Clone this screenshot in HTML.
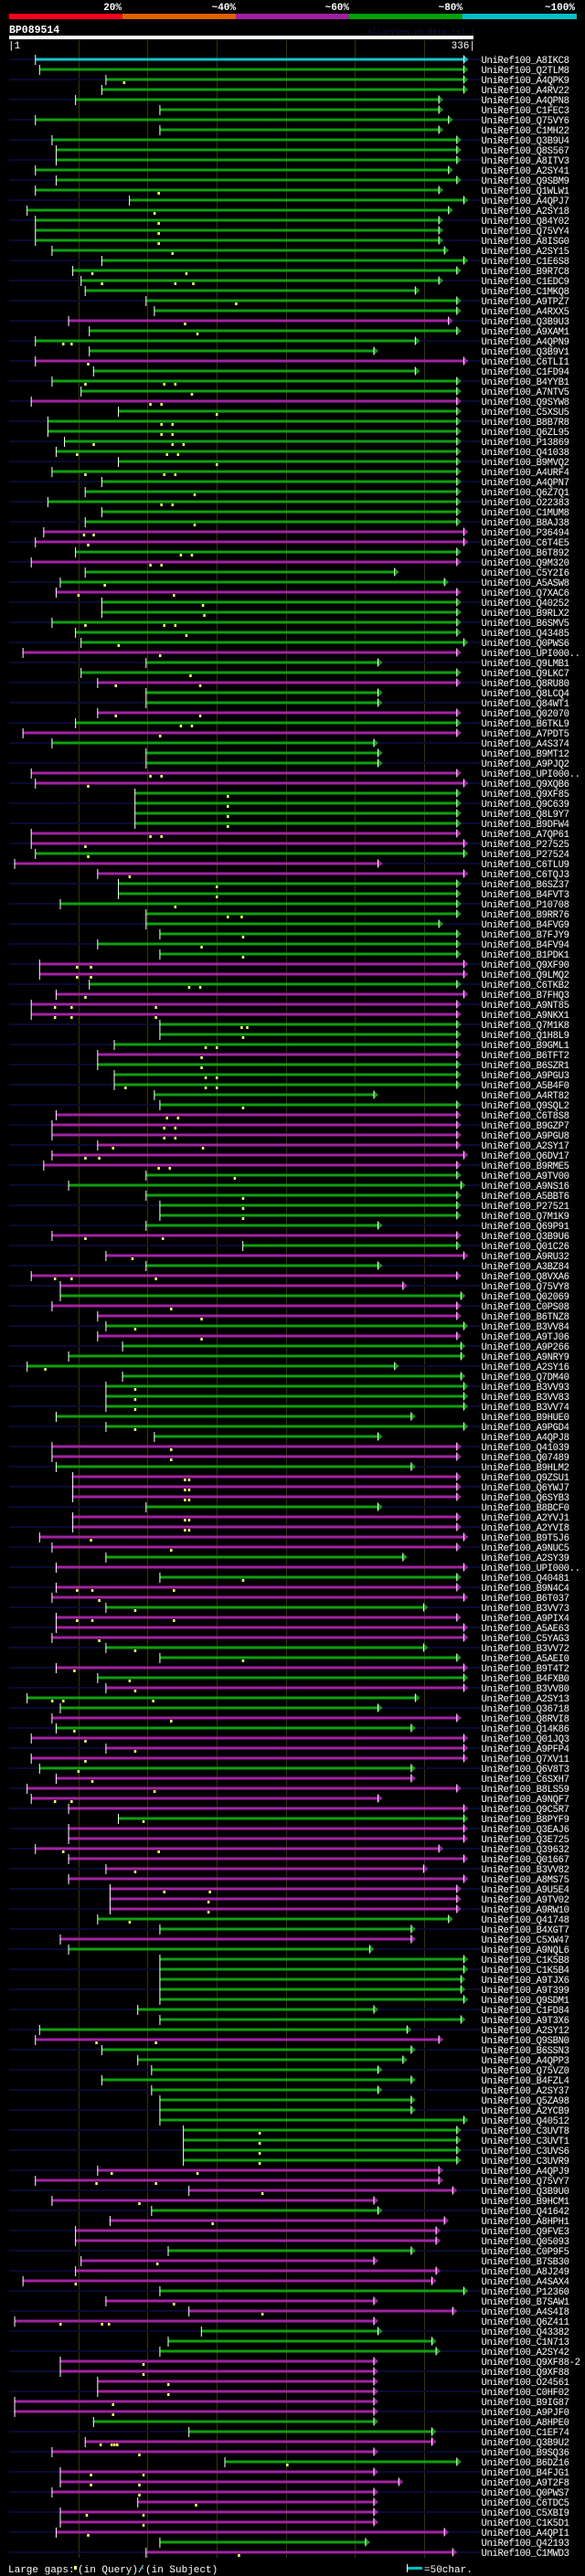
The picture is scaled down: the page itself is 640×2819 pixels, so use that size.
<!DOCTYPE html>
<html>
<head>
<meta charset="utf-8">
<style>
html,body{margin:0;padding:0;background:#000;}
body{width:640px;height:2819px;overflow:hidden;position:relative;font-family:"Liberation Mono",monospace;}
svg{position:absolute;left:0;top:0;}
</style>
</head>
<body>
<svg id="chart" width="640" height="2819" viewBox="0 0 640 2819" xmlns="http://www.w3.org/2000/svg">
  <g font-family="Liberation Mono, monospace" font-weight="bold" font-size="11" fill="#fff" text-anchor="end">
    <text x="133" y="11">20%</text>
    <text x="258" y="11">~40%</text>
    <text x="382" y="11">~60%</text>
    <text x="506" y="11">~80%</text>
    <text x="629" y="11">~100%</text>
  </g>
  <g>
    <rect x="10" y="15" width="124" height="6" fill="#ff0020"/>
    <rect x="134" y="15" width="124" height="6" fill="#e06000"/>
    <rect x="258" y="15" width="124" height="6" fill="#a020a0"/>
    <rect x="382" y="15" width="124" height="6" fill="#00a000"/>
    <rect x="506" y="15" width="125" height="6" fill="#00c0c8"/>
  </g>
  <text x="10" y="36" font-family="Liberation Mono, monospace" font-weight="bold" font-size="11.5" fill="#fff">BP089514</text>
  <text x="402" y="37" font-family="Liberation Mono, monospace" font-size="8.5" fill="#101048">AlignView.pm Beta rel.7</text>
  <rect x="10" y="39" width="508" height="4" fill="#fff"/>
  <text x="9" y="53" font-family="Liberation Mono, monospace" font-size="11" fill="#fff">|1</text>
  <text x="520" y="53" text-anchor="end" font-family="Liberation Mono, monospace" font-size="11" fill="#fff">336|</text>
  <g id="grid"></g>
  <g id="rows"></g>
  <g font-family="Liberation Mono, monospace" font-size="11" fill="#fff">
    <text x="9" y="2815">Large gaps:</text>
    <rect x="81" y="2808" width="3" height="4" fill="#ffff60"/>
    <text x="85" y="2815">(in Query)/</text>
    <rect x="153" y="2810" width="4" height="1" fill="#00c0c8"/>
    <text x="159" y="2815">(in Subject)</text>
    <rect x="445" y="2806" width="1" height="9" fill="#fff"/>
    <rect x="446" y="2809" width="16" height="3" fill="#00c0c8"/>
    <text x="464" y="2815">=50char.</text>
  </g>
</svg>
<script>
const names = ["UniRef100_A8IKC8","UniRef100_Q2TLM8","UniRef100_A4QPK9","UniRef100_A4RV22","UniRef100_A4QPN8","UniRef100_C1FEC3","UniRef100_Q75VY6","UniRef100_C1MH22","UniRef100_Q3B9U4","UniRef100_Q8S567",
"UniRef100_A8ITV3","UniRef100_A2SY41","UniRef100_Q9SBM9","UniRef100_Q1WLW1","UniRef100_A4QPJ7","UniRef100_A2SY18","UniRef100_Q84Y02","UniRef100_Q75VY4","UniRef100_A8ISG0","UniRef100_A2SY15",
"UniRef100_C1E6S8","UniRef100_B9R7C8","UniRef100_C1EDC9","UniRef100_C1MKQ8","UniRef100_A9TPZ7","UniRef100_A4RXX5","UniRef100_Q3B9U3","UniRef100_A9XAM1","UniRef100_A4QPN9","UniRef100_Q3B9V1",
"UniRef100_C6TLI1","UniRef100_C1FD94","UniRef100_B4YYB1","UniRef100_A7NTV5","UniRef100_Q9SYW8","UniRef100_C5XSU5","UniRef100_B8B7R8","UniRef100_Q6ZL95","UniRef100_P13869","UniRef100_Q41038",
"UniRef100_B9MVQ2","UniRef100_A4URF4","UniRef100_A4QPN7","UniRef100_Q6Z7Q1","UniRef100_O22383","UniRef100_C1MUM8","UniRef100_B8AJ38","UniRef100_P36494","UniRef100_C6T4E5","UniRef100_B6T892",
"UniRef100_Q9M320","UniRef100_C5Y2I6","UniRef100_A5ASW8","UniRef100_Q7XAC6","UniRef100_Q40252","UniRef100_B9RLX2","UniRef100_B6SMV5","UniRef100_Q43485","UniRef100_Q0PWS6","UniRef100_UPI000..",
"UniRef100_Q9LMB1","UniRef100_Q9LKC7","UniRef100_Q8RU80","UniRef100_Q8LCQ4","UniRef100_Q84WT1","UniRef100_Q02070","UniRef100_B6TKL9","UniRef100_A7PDT5","UniRef100_A4S374","UniRef100_B9MT12",
"UniRef100_A9PJQ2","UniRef100_UPI000..","UniRef100_Q9XQB6","UniRef100_Q9XF85","UniRef100_Q9C639","UniRef100_Q8L9Y7","UniRef100_B9DFW4","UniRef100_A7QP61","UniRef100_P27525","UniRef100_P27524",
"UniRef100_C6TLU9","UniRef100_C6TQJ3","UniRef100_B6SZ37","UniRef100_B4FVT3","UniRef100_P10708","UniRef100_B9RR76","UniRef100_B4FVG9","UniRef100_B7FJY9","UniRef100_B4FV94","UniRef100_B1PDK1",
"UniRef100_Q9XF90","UniRef100_Q9LMQ2","UniRef100_C6TKB2","UniRef100_B7FHQ3","UniRef100_A9NT85","UniRef100_A9NKX1","UniRef100_Q7M1K8","UniRef100_Q1H8L9","UniRef100_B9GML1","UniRef100_B6TFT2",
"UniRef100_B6SZR1","UniRef100_A9PGU3","UniRef100_A5B4F0","UniRef100_A4RT82","UniRef100_Q9SQL2","UniRef100_C6T8S8","UniRef100_B9GZP7","UniRef100_A9PGU8","UniRef100_A2SY17","UniRef100_Q6DV17",
"UniRef100_B9RME5","UniRef100_A9TV00","UniRef100_A9NS16","UniRef100_A5BBT6","UniRef100_P27521","UniRef100_Q7M1K9","UniRef100_Q69P91","UniRef100_Q3B9U6","UniRef100_Q01C26","UniRef100_A9RU32",
"UniRef100_A3BZ84","UniRef100_Q8VXA6","UniRef100_Q75VY8","UniRef100_Q02069","UniRef100_C0PS08","UniRef100_B6TNZ8","UniRef100_B3VV84","UniRef100_A9TJ06","UniRef100_A9P266","UniRef100_A9NRY9",
"UniRef100_A2SY16","UniRef100_Q7DM40","UniRef100_B3VV93","UniRef100_B3VV83","UniRef100_B3VV74","UniRef100_B9HUE0","UniRef100_A9PGD4","UniRef100_A4QPJ8","UniRef100_Q41039","UniRef100_Q07489",
"UniRef100_B9HLM2","UniRef100_Q9ZSU1","UniRef100_Q6YWJ7","UniRef100_Q6SYB3","UniRef100_B8BCF0","UniRef100_A2YVJ1","UniRef100_A2YVI8","UniRef100_B9T5J6","UniRef100_A9NUC5","UniRef100_A2SY39",
"UniRef100_UPI000..","UniRef100_Q40481","UniRef100_B9N4C4","UniRef100_B6T037","UniRef100_B3VV73","UniRef100_A9PIX4","UniRef100_A5AE63","UniRef100_C5YAG3","UniRef100_B3VV72","UniRef100_A5AEI0",
"UniRef100_B9T4T2","UniRef100_B4FXB0","UniRef100_B3VV80","UniRef100_A2SY13","UniRef100_Q36718","UniRef100_Q8RVI8","UniRef100_Q14K86","UniRef100_Q01JQ3","UniRef100_A9PFP4","UniRef100_Q7XV11",
"UniRef100_Q6V8T3","UniRef100_C6SXH7","UniRef100_B8LS59","UniRef100_A9NQF7","UniRef100_Q9C5R7","UniRef100_B8PYF9","UniRef100_Q3EAJ6","UniRef100_Q3E725","UniRef100_Q39632","UniRef100_Q01667",
"UniRef100_B3VV82","UniRef100_A8MS75","UniRef100_A9U5E4","UniRef100_A9TV02","UniRef100_A9RW10","UniRef100_Q41748","UniRef100_B4XGT7","UniRef100_C5XW47","UniRef100_A9NQL6","UniRef100_C1K5B8",
"UniRef100_C1K5B4","UniRef100_A9TJX6","UniRef100_A9T399","UniRef100_Q9SDM1","UniRef100_C1FD84","UniRef100_A9T3X6","UniRef100_A2SY12","UniRef100_Q9SBN0","UniRef100_B6SSN3","UniRef100_A4QPP3",
"UniRef100_Q75VZ0","UniRef100_B4FZL4","UniRef100_A2SY37","UniRef100_Q5ZA98","UniRef100_A2YCB9","UniRef100_Q40512","UniRef100_C3UVT8","UniRef100_C3UVT1","UniRef100_C3UVS6","UniRef100_C3UVR9",
"UniRef100_A4QPJ9","UniRef100_Q75VY7","UniRef100_Q3B9U0","UniRef100_B9HCM1","UniRef100_Q41642","UniRef100_A8HPH1","UniRef100_Q9FVE3","UniRef100_Q05093","UniRef100_C0P9F5","UniRef100_B7SB30",
"UniRef100_A8J249","UniRef100_A4SAX4","UniRef100_P12360","UniRef100_B7SAW1","UniRef100_A4S4I8","UniRef100_Q6Z411","UniRef100_Q43382","UniRef100_C1N713","UniRef100_A2SY42","UniRef100_Q9XF88-2",
"UniRef100_Q9XF88","UniRef100_O24561","UniRef100_C0HF02","UniRef100_B9IG87","UniRef100_A9PJF0","UniRef100_A8HPE0","UniRef100_C1EF74","UniRef100_Q3B9U2","UniRef100_B9SQ36","UniRef100_B6DZ16",
"UniRef100_B4FJG1","UniRef100_A9T2F8","UniRef100_Q0PWS7","UniRef100_C6TDC5","UniRef100_C5XBI9","UniRef100_C1K5D1","UniRef100_A4QPI1","UniRef100_Q42193","UniRef100_C1MWD3"];

const starts = [20,23,71,68,49,110,20,110,32,35, 35,20,35,20,88,14,20,20,20,32, 68,47,53,56,100,106,44,59,20,59,
20,62,32,53,17,80,29,29,41,35, 80,32,68,56,29,68,56,26,20,49, 17,56,38,35,68,68,32,49,53,11,
100,53,65,100,100,65,49,11,32,100, 100,17,20,92,92,92,92,17,17,20, 5,65,80,80,38,100,100,110,65,110,
23,23,59,35,17,17,110,110,77,65, 65,77,77,106,110,35,32,32,65,32, 26,100,44,100,110,110,100,32,170,71,
100,17,38,38,32,65,71,65,83,44, 14,83,71,71,71,35,71,106,32,32, 35,47,47,47,100,47,47,23,32,71,
35,110,35,32,71,35,35,32,71,110, 35,65,71,14,38,32,35,17,71,17, 23,35,14,17,44,80,44,44,20,44,
71,44,74,74,74,65,110,38,44,110, 110,110,110,110,94,110,23,20,68,94, 104,68,104,110,110,110,127,127,127,127,
65,20,131,32,104,74,49,49,116,53, 49,11,110,71,131,5,140,116,110,38, 38,65,65,5,5,62,131,56,32,157,
38,38,32,94,38,38,35,110,100];

const ends = [333,333,333,333,315,315,322,315,328,328, 328,322,328,315,333,322,315,315,315,319, 333,328,315,298,328,328,322,328,298,268,
333,298,328,328,328,328,328,328,328,328, 328,328,328,328,328,328,328,333,333,328, 328,283,319,328,328,328,328,328,333,328,
271,328,328,271,271,328,328,328,268,271, 271,328,333,328,328,328,328,328,333,333, 271,333,328,328,328,328,315,328,328,328,
333,333,328,333,328,328,328,328,328,328, 328,328,328,268,328,328,328,328,328,333, 328,328,331,328,328,328,271,328,328,333,
271,328,289,331,328,328,333,328,331,331, 283,331,333,333,333,295,333,271,328,328, 295,328,328,328,271,328,328,333,328,289,
333,328,328,333,304,328,333,333,304,328, 333,333,333,298,271,328,295,333,333,333, 295,295,328,271,333,333,333,333,315,333,
304,333,328,328,328,322,295,295,265,333, 333,331,331,333,268,331,292,315,295,289, 271,295,271,295,295,333,328,328,328,328,
315,315,325,268,271,319,313,313,295,268, 313,310,333,268,325,268,271,310,313,268, 268,268,268,268,268,268,310,310,268,328,
268,286,268,268,268,268,319,262,325];

const colors = "cggggggggg" + "gggggggggg" + "ggggggmggg" + "mgggmggggg" + "gggggggmmg" +
"mggmgggggm" + "ggmggmgmgg" + "gmmggggmmg" + "mmgggggggg" + "mmgmmmgggm" +
"gggggmmmmm" + "mggggggmgm" + "gmmgmmgmgg" + "ggggggggmm" + "gmmmgmmmmg" +
"mgmmgmmmgg" + "mgmggmgmmm" + "gmmmmgmmmm" + "mmmmmggmgg" + "gggggggmgg" +
"gggggggggg" + "mmmmgmmmgm" + "mmgmmmgggm" + "mmmmmggmmg" + "mmmmmmmgm";

const gaps = [[],[],[84],[],[],[],[],[],[],[], [],[],[],[109],[],[106],[109],[109],[109],[119],
[],[61,129],[68,121,134],[],[165],[],[128],[137],[40,46],[], [58],[],[56,113,121],[133],[103,111],[151],[111,119],[111,119],[62,119,127],[50,115,123],
[151],[56,113,121],[],[135],[111,119],[],[135],[55,62],[58],[125,133], [103,111],[],[70],[51,120],[141],[142],[56,113,121],[129],[80],[110],
[],[132],[78,139],[],[],[78,139],[125,133],[110],[],[], [],[103,111],[58],[159],[159],[159],[159],[103,111],[56],[58],
[],[88],[151],[151],[121],[159,169],[],[170],[140],[170], [50,60],[50,60],[131,139],[56],[34,46,107],[34,46,107],[169,173],[170],[143,151],[140],
[140],[143,151],[85,143,151],[],[170],[115,123],[113,121],[113,121],[76,141],[56,66], [109,117],[164],[],[170],[170],[170],[],[56,112],[],[90],
[],[34,46,107],[],[],[118],[140],[92],[140],[],[], [27],[],[92],[92],[92],[],[92],[],[118],[118],
[],[128,131],[128,131],[128,131],[],[128,131],[128,131],[60],[118],[], [],[170],[50,61,120],[66],[92],[50,61,120],[],[66],[92],[170],
[48],[88],[92],[32,40,105],[],[118],[48],[56],[92],[56], [51],[61],[106],[34,46],[],[98],[],[],[40,109],[],
[92],[],[113,146],[145],[145],[88],[],[],[],[], [],[],[],[],[],[],[],[64,107],[],[],
[],[],[],[],[],[],[182],[182],[182],[182], [75,137],[64,107],[184],[95],[],[148],[],[],[],[108],
[],[49],[],[120],[184],[38,68,73],[],[],[],[98], [98],[116],[116],[76],[76],[],[],[67,75,77,79],[95],[202],
[60,98],[60,95],[95],[136],[57,98],[98],[58],[],[167]];

const gridResidues = [51,101,151,201,251,301];

const colorMap = {g:"#0ea00e", m:"#a222a2", c:"#10c4cc"};
const NS = "http://www.w3.org/2000/svg";
function xScale(r){ return 10 + (r-1)*1.513; }
function yRow(i){ return 65 + i*11; }
function mk(tag, attrs){ const e=document.createElementNS(NS,tag); for(const k in attrs) e.setAttribute(k,attrs[k]); return e; }

const gridG = document.getElementById("grid");
gridResidues.forEach(function(r){
  const l = mk("rect",{x:Math.round(xScale(r)), y:44, width:1, height:2755, fill:"#34340a"});
  
  
  gridG.appendChild(l);
});

const rowsG = document.getElementById("rows");
names.forEach(function(name, i){
  const y = yRow(i);
  const g = mk("g",{});
  
  
  if (i % 2 === 0) {
    const s = mk("rect",{x:10, y:y-1, width:516, height:2, fill:"#0a0a34"});
    
    
    g.appendChild(s);
  }
  const col = colorMap[colors[i]] || colorMap.g;
  const x0 = xScale(starts[i]);
  const x1 = xScale(ends[i]);
  const bar = mk("rect",{x:x0, y:y-1.5, width:Math.max(1,x1-x0-5), height:3, fill:col});
  
  
  g.appendChild(bar);
  const tick = mk("rect",{x:x0-0.5, y:y-5, width:1, height:11, fill:"#ffffff"});
  
  
  g.appendChild(tick);
  const arr = mk("polygon",{points:(x1-5)+","+(y-4.5)+" "+x1+","+y+" "+(x1-5)+","+(y+4.5), fill:col});
  
  
  g.appendChild(arr);
  const base = mk("rect",{x:x1-5.5, y:y-4.5, width:1, height:9, fill:"#ffffff"});
  
  
  g.appendChild(base);
  (gaps[i]||[]).forEach(function(r){
    const gx = xScale(r);
    const m = mk("rect",{x:gx-1, y:y+2, width:2.5, height:3, fill:"#ffff60"});
    
    
    g.appendChild(m);
  });
  const t = mk("text",{x:526.5, y:y+3.8, "font-family":"Liberation Mono, monospace", "font-size":"10.6", fill:"#ffffff", "letter-spacing":"-0.35"});
  t.textContent = name;
  
  
  g.appendChild(t);
  rowsG.appendChild(g);
});
</script>
</body>
</html>
